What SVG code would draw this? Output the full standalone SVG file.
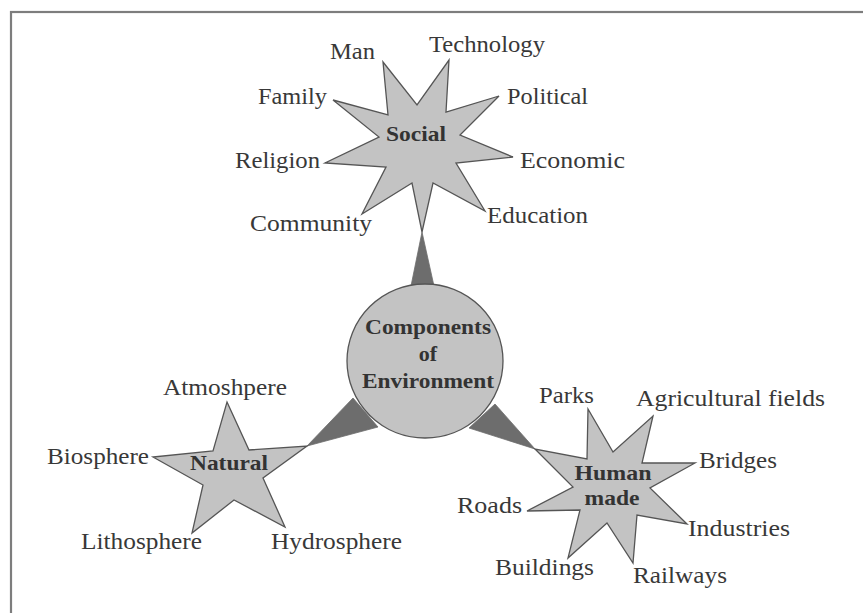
<svg xmlns="http://www.w3.org/2000/svg" width="863" height="613" viewBox="0 0 863 613" font-family="Liberation Serif, serif">
<style>
.lbl{font-family:'Liberation Serif',serif;font-size:23px;fill:#383838}
.hd{font-family:'Liberation Serif',serif;font-size:22px;font-weight:bold;fill:#333;text-anchor:middle}
.star{fill:#c3c3c3;stroke:#555;stroke-width:1.3;stroke-linejoin:miter}
.wedge{fill:#6d6d6d;stroke:#6d6d6d;stroke-width:0.8}
</style>
<rect x="11" y="12" width="870" height="620" fill="#fff" stroke="#7d7d7d" stroke-width="2.2"/>
<g id="connectors">
<polygon class="wedge" points="422,232 411,286 434,286"/>
<polygon class="wedge" points="307,446 353,398 378,427"/>
<polygon class="wedge" points="535,449 495,404 469,428"/>
</g>
<g id="center">
<ellipse cx="425" cy="361" rx="78" ry="77" class="star"/>
<text class="hd" x="428" y="334" textLength="126" lengthAdjust="spacingAndGlyphs">Components</text>
<text class="hd" x="428" y="361">of</text>
<text class="hd" x="428" y="388" textLength="132" lengthAdjust="spacingAndGlyphs">Environment</text>
</g>
<g id="social">
<polygon class="star" points="383,62 417,105 449,60 446,112 499,96 460,135 513,157 456,163 485,211 433,183 422,232 412,183 362,214 386,167 325,163 379,137 333,100 388,115"/>
<text class="hd" x="416" y="141" textLength="60" lengthAdjust="spacingAndGlyphs">Social</text>
</g>
<g id="social-labels">
<text class="lbl" x="330" y="59" textLength="45" lengthAdjust="spacingAndGlyphs">Man</text>
<text class="lbl" x="429" y="52" textLength="116" lengthAdjust="spacingAndGlyphs">Technology</text>
<text class="lbl" x="258" y="104" textLength="69" lengthAdjust="spacingAndGlyphs">Family</text>
<text class="lbl" x="507" y="104" textLength="81" lengthAdjust="spacingAndGlyphs">Political</text>
<text class="lbl" x="235" y="168" textLength="85" lengthAdjust="spacingAndGlyphs">Religion</text>
<text class="lbl" x="520" y="168" textLength="105" lengthAdjust="spacingAndGlyphs">Economic</text>
<text class="lbl" x="250" y="231" textLength="122" lengthAdjust="spacingAndGlyphs">Community</text>
<text class="lbl" x="487" y="223" textLength="101" lengthAdjust="spacingAndGlyphs">Education</text>
</g>
<g id="natural">
<polygon class="star" points="227,402 249,450 307,446 263,478 285,527 234,500 192,533 203,485 153,457 213,451"/>
<text class="hd" x="229" y="470" textLength="78" lengthAdjust="spacingAndGlyphs">Natural</text>
</g>
<g id="natural-labels">
<text class="lbl" x="163" y="395" textLength="124" lengthAdjust="spacingAndGlyphs">Atmoshpere</text>
<text class="lbl" x="47" y="464" textLength="102" lengthAdjust="spacingAndGlyphs">Biosphere</text>
<text class="lbl" x="81" y="549" textLength="121" lengthAdjust="spacingAndGlyphs">Lithosphere</text>
<text class="lbl" x="271" y="549" textLength="131" lengthAdjust="spacingAndGlyphs">Hydrosphere</text>
</g>
<g id="humanmade">
<polygon class="star" points="588,409 613,452 653,416 642,463 695,463 650,488 687,524 637,515 633,563 607,523 568,558 580,510 527,511 573,487 535,449 587,459"/>
<text class="hd" x="613" y="480" textLength="77" lengthAdjust="spacingAndGlyphs">Human</text>
<text class="hd" x="612" y="505" textLength="55" lengthAdjust="spacingAndGlyphs">made</text>
</g>
<g id="humanmade-labels">
<text class="lbl" x="539" y="403" textLength="55" lengthAdjust="spacingAndGlyphs">Parks</text>
<text class="lbl" x="636" y="406" textLength="189" lengthAdjust="spacingAndGlyphs">Agricultural fields</text>
<text class="lbl" x="699" y="468" textLength="78" lengthAdjust="spacingAndGlyphs">Bridges</text>
<text class="lbl" x="457" y="513" textLength="65" lengthAdjust="spacingAndGlyphs">Roads</text>
<text class="lbl" x="688" y="536" textLength="102" lengthAdjust="spacingAndGlyphs">Industries</text>
<text class="lbl" x="495" y="575" textLength="99" lengthAdjust="spacingAndGlyphs">Buildings</text>
<text class="lbl" x="633" y="583" textLength="94" lengthAdjust="spacingAndGlyphs">Railways</text>
</g>
</svg>
